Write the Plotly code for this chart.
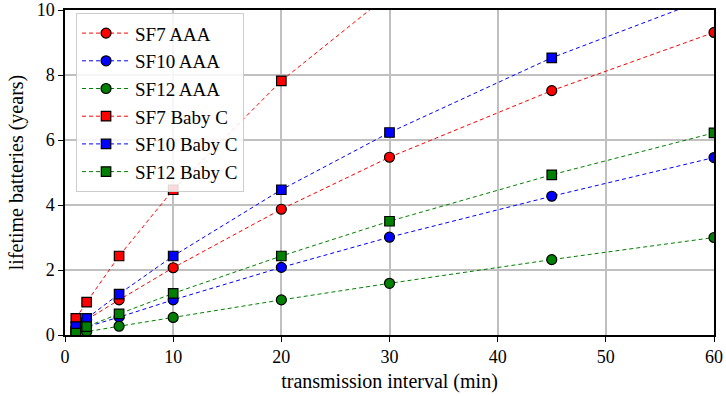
import plotly.graph_objects as go

intervals = [1, 2, 5, 10, 20, 30, 45, 60]
sf7_aaa = [0.23, 0.47, 1.08, 2.07, 3.87, 5.47, 7.52, 9.31]
sf10_aaa = [0.12, 0.25, 0.55, 1.08, 2.08, 3.01, 4.27, 5.46]
sf12_aaa = [0.03, 0.10, 0.27, 0.54, 1.08, 1.59, 2.32, 3.00]
sf7_babyc = [0.51, 1.01, 2.43, 4.47, 7.82, 10.55, 14.5, 18.0]
sf10_babyc = [0.26, 0.51, 1.26, 2.43, 4.47, 6.23, 8.53, 10.43]
sf12_babyc = [0.06, 0.26, 0.65, 1.28, 2.43, 3.50, 4.93, 6.22]

series = [
    ("SF7 AAA", sf7_aaa, "red", "circle"),
    ("SF10 AAA", sf10_aaa, "blue", "circle"),
    ("SF12 AAA", sf12_aaa, "green", "circle"),
    ("SF7 Baby C", sf7_babyc, "red", "square"),
    ("SF10 Baby C", sf10_babyc, "blue", "square"),
    ("SF12 Baby C", sf12_babyc, "green", "square"),
]

fig = go.Figure()
for name, vals, col, sym in series:
    fig.add_trace(go.Scatter(
        x=intervals, y=vals, name=name, mode="lines+markers",
        line=dict(color=col, width=1, dash="4px,3px"),
        marker=dict(color=col, symbol=sym, size=10 if sym == "circle" else 9.5,
                    line=dict(color="black", width=1.2)),
        cliponaxis=True,
    ))

font = "Liberation Serif, Times New Roman, serif"
fig.update_layout(
    width=726, height=396,
    margin=dict(l=65, r=12, t=10, b=61, autoexpand=False),
    paper_bgcolor="white", plot_bgcolor="white",
    font=dict(family=font, size=18, color="black"),
    showlegend=True,
    legend=dict(
        x=0.017, y=0.99, xanchor="left", yanchor="top",
        bgcolor="rgba(255,255,255,0.85)", bordercolor="#cccccc", borderwidth=1,
        font=dict(family=font, size=19, color="black"),
        itemwidth=48, tracegroupgap=0,
    ),
    xaxis=dict(
        range=[0, 60], tickvals=[0, 10, 20, 30, 40, 50, 60],
        showgrid=True, gridcolor="#c0c0c0", gridwidth=1.5,
        showline=True, linecolor="black", linewidth=1.5, mirror=True,
        ticks="outside", ticklen=5, tickwidth=1.2, tickcolor="black",
        zeroline=False, automargin=False,
        title=dict(text="transmission interval (min)", font=dict(family=font, size=20), standoff=8),
    ),
    yaxis=dict(
        range=[0, 10], tickvals=[0, 2, 4, 6, 8, 10],
        showgrid=True, gridcolor="#c0c0c0", gridwidth=1.5,
        showline=True, linecolor="black", linewidth=1.5, mirror=True,
        ticks="outside", ticklen=5, tickwidth=1.2, tickcolor="black",
        zeroline=False, automargin=False,
        title=dict(text="lifetime batteries (years)", font=dict(family=font, size=20), standoff=8),
    ),
)

fig.write_html("out.html")
